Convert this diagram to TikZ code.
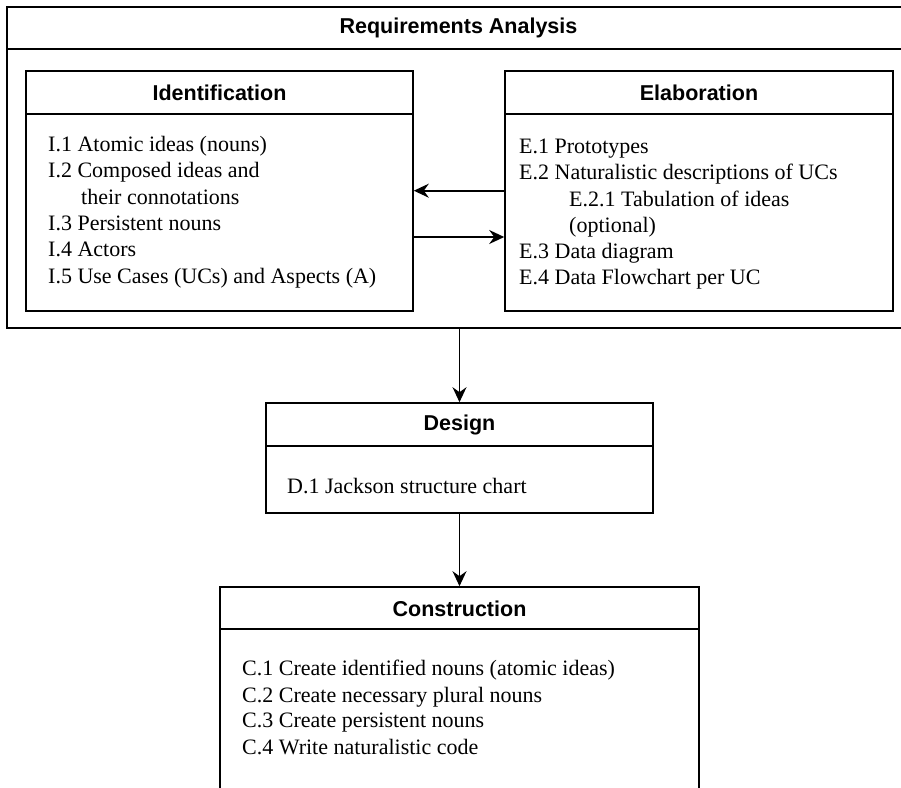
\documentclass[tikz,border=0pt]{standalone}
\usepackage{fontspec}
\setmainfont{Liberation Serif}
\setsansfont{Liberation Sans}
\usetikzlibrary{arrows.meta}
\begin{document}
\begin{tikzpicture}[x=1pt,y=-1pt,
  box/.style={draw, line width=1.6pt, inner sep=0pt, minimum width=#1},
  hdr/.style={font=\sffamily\bfseries\fontsize{21.5}{25}\selectfont, inner sep=0pt},
  item/.style={font=\fontsize{22}{26}\selectfont, anchor=base west, inner sep=0pt},
  sep/.style={line width=1.6pt},
  arr/.style={line width=1.6pt, -{Stealth[length=15pt,width=14pt,inset=5pt]}}]
\useasboundingbox (0,0) rectangle (901,787);
\fill[white] (0,0) rectangle (901,787);

% Outer requirements box
\node[box=903pt, minimum height=321pt] (req) at (458.5,167.5) {};
\draw[sep] (req.west |- 0,49) -- (req.east |- 0,49);
\node[hdr] (reqh) at (458.5,28) {Requirements Analysis};

% Identification
\node[box=387pt, minimum height=240pt] (idn) at (219.5,191) {};
\draw[sep] (idn.west |- 0,114) -- (idn.east |- 0,114);
\node[hdr] (idnh) at (219.5,93) {Identification};
\node[item] (i1) at (48,151) {I.1 Atomic ideas (nouns)};
\node[item] (i2) at (48,177) {I.2 Composed ideas and};
\node[item] (i2b) at (81,204) {their connotations};
\node[item] (i3) at (48,230) {I.3 Persistent nouns};
\node[item] (i4) at (48,256) {I.4 Actors};
\node[item] (i5) at (48,283) {I.5 Use Cases (UCs) and Aspects (A)};

% Elaboration
\node[box=388pt, minimum height=240pt] (ela) at (699,191) {};
\draw[sep] (ela.west |- 0,114) -- (ela.east |- 0,114);
\node[hdr] (elah) at (699,93) {Elaboration};
\node[item] (e1) at (519,153) {E.1 Prototypes};
\node[item] (e2) at (519,179) {E.2 Naturalistic descriptions of UCs};
\node[item] (e21) at (569,206) {E.2.1 Tabulation of ideas};
\node[item] (e21b) at (569,232) {(optional)};
\node[item] (e3) at (519,258) {E.3 Data diagram};
\node[item] (e4) at (519,284) {E.4 Data Flowchart per UC};

% Design
\node[box=387pt, minimum height=110pt] (dsg) at (459.5,458) {};
\draw[sep] (dsg.west |- 0,446) -- (dsg.east |- 0,446);
\node[hdr] (dsgh) at (459.5,425) {Design};
\node[item] (d1) at (287,493) {D.1 Jackson structure chart};

% Construction
\node[box=479pt, minimum height=213pt] (con) at (459.5,693.5) {};
\draw[sep] (con.west |- 0,629) -- (con.east |- 0,629);
\node[hdr] (conh) at (459.5,609) {Construction};
\node[item] (c1) at (242,675) {C.1 Create identified nouns (atomic ideas)};
\node[item] (c2) at (242,702) {C.2 Create necessary plural nouns};
\node[item] (c3) at (242,727) {C.3 Create persistent nouns};
\node[item] (c4) at (242,754) {C.4 Write naturalistic code};

% Connectors
\draw[arr] (ela.west |- 0,190.7) -- (idn.east |- 0,190.7);
\draw[arr] (idn.east |- 0,237) -- (ela.west |- 0,237);
\draw[arr] (req.south -| dsg.north) -- (dsg.north);
\draw[arr] (dsg.south) -- (con.north);
\end{tikzpicture}
\end{document}
